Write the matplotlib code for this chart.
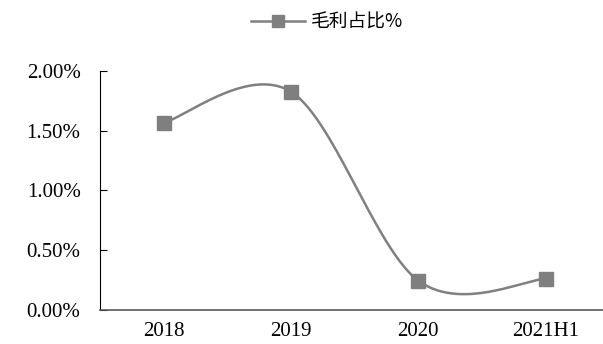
import numpy as np
import matplotlib
matplotlib.use("Agg")
import matplotlib.pyplot as plt
from matplotlib.lines import Line2D
from matplotlib.ticker import FuncFormatter, MultipleLocator

categories = ["2018", "2019", "2020", "2021H1"]
values = [1.565, 1.824, 0.245, 0.26]  # 毛利占比 %
series_name = "毛利占比%"

color = "#808080"

def smooth(xs, ys, n=60):
    xs = np.asarray(xs, float); ys = np.asarray(ys, float)
    P = np.column_stack([xs, ys])
    out = []
    for i in range(len(P) - 1):
        p0 = P[i - 1] if i > 0 else P[i]
        p1 = P[i]; p2 = P[i + 1]
        p3 = P[i + 2] if i + 2 < len(P) else P[i + 1]
        c1 = p1 + (p2 - p0) / 6.0
        c2 = p2 - (p3 - p1) / 6.0
        t = np.linspace(0, 1, n)[:, None]
        seg = ((1 - t) ** 3) * p1 + 3 * ((1 - t) ** 2) * t * c1 + 3 * (1 - t) * t ** 2 * c2 + t ** 3 * p2
        out.append(seg if i == 0 else seg[1:])
    S = np.vstack(out)
    return S[:, 0], S[:, 1]

fig = plt.figure(figsize=(6.03, 3.44), dpi=100)
ax = fig.add_axes([100 / 603, 1 - 310 / 344, (603 - 100) / 603, (310 - 70.7) / 344])

x = np.arange(len(categories))
sx, sy = smooth(x, values)
ax.plot(sx, sy, color=color, lw=1.8, solid_capstyle="round", zorder=2)
ax.plot(x, values, ls="none", marker="s", ms=10, color="#7f7f7f", zorder=3)

ax.set_xlim(-0.5, 3.45)
ax.set_ylim(0, 2.0)
ax.yaxis.set_major_locator(MultipleLocator(0.5))
ax.yaxis.set_major_formatter(FuncFormatter(lambda v, p: f"{v:.2f}%"))
ax.set_xticks(x)
ax.set_xticklabels(categories)

for s in ["top", "right"]:
    ax.spines[s].set_visible(False)
ax.spines["left"].set_color("black")
ax.spines["left"].set_linewidth(0.8)
ax.spines["bottom"].set_color("#595959")
ax.spines["bottom"].set_linewidth(1.2)

ax.tick_params(axis="y", direction="in", length=5, width=0.8, labelsize=15, pad=14)
ax.tick_params(axis="x", length=0, labelsize=15, pad=9)
for lab in ax.get_yticklabels() + ax.get_xticklabels():
    lab.set_fontfamily("Liberation Serif")

handle = Line2D([], [], color=color, lw=1.8, marker="s", ms=8, markerfacecolor="#7f7f7f", markeredgecolor="#7f7f7f")
leg = fig.legend([handle], [series_name], loc="center", bbox_to_anchor=(327 / 603, 1 - 22 / 344),
                 frameon=False, prop={"family": ["Noto Sans CJK SC", "DejaVu Sans"], "size": 13.5},
                 handlelength=2.9, handletextpad=0.3)

fig.savefig("out.png", dpi=100)
